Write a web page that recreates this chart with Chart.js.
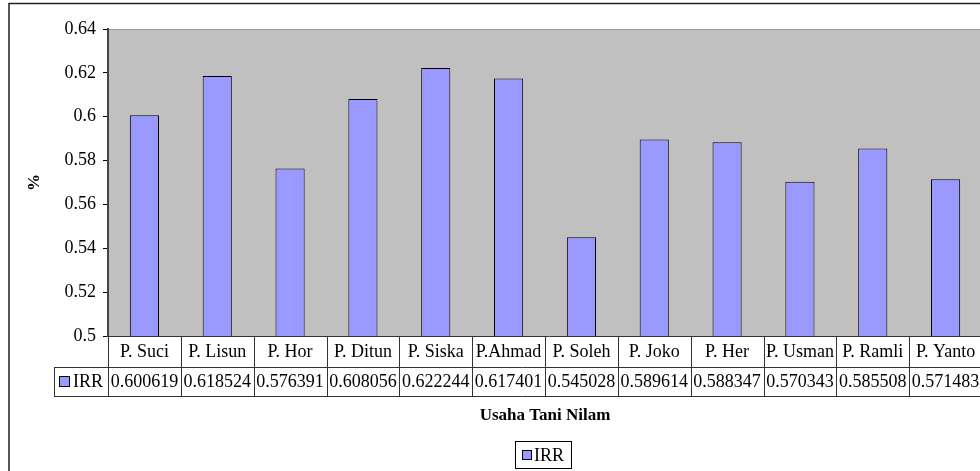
<!DOCTYPE html>
<html>
<head>
<meta charset="utf-8">
<script src="https://cdn.jsdelivr.net/npm/chart.js@4.4.0/dist/chart.umd.min.js"></script>
<style>
  html, body { margin: 0; padding: 0; background: #fff; overflow: hidden; }
  #wrap { width: 990px; height: 471px; }
</style>
</head>
<body>
<div id="wrap"><canvas id="c" width="990" height="471"></canvas></div>
<script>
const categories = ['P. Suci', 'P. Lisun', 'P. Hor', 'P. Ditun', 'P. Siska', 'P.Ahmad',
                    'P. Soleh', 'P. Joko', 'P. Her', 'P. Usman', 'P. Ramli', 'P. Yanto'];
const irrValues = [0.600619, 0.618524, 0.576391, 0.608056, 0.622244, 0.617401,
                   0.545028, 0.589614, 0.588347, 0.570343, 0.585508, 0.571483];
const seriesName = 'IRR';
const yMin = 0.5, yMax = 0.64, yStep = 0.02;
const xTitle = 'Usaha Tani Nilam';
const yTitle = '%';

const SERIF = "'Liberation Serif', 'Times New Roman', serif";
const BAR_FILL = '#9999FF';

// Plot background, data table under the axis, titles, legend and frame
const decorations = {
  id: 'decorations',
  beforeDraw(chart) {
    const { ctx, chartArea: a } = chart;
    ctx.save();
    ctx.fillStyle = '#C0C0C0';
    ctx.fillRect(a.left, a.top, a.right - a.left, a.bottom - a.top);
    ctx.strokeStyle = '#999';
    ctx.lineWidth = 1;
    ctx.beginPath();
    ctx.moveTo(a.left, a.top + 0.5);
    ctx.lineTo(a.right, a.top + 0.5);
    ctx.stroke();
    ctx.restore();
  },
  afterDraw(chart) {
    const { ctx, chartArea: a, scales } = chart;
    const x = scales.x;
    const half = (x.getPixelForValue(1) - x.getPixelForValue(0)) / 2;
    const row1Top = a.bottom, row1Bot = a.bottom + 31, row2Bot = a.bottom + 60;
    const labelCellLeft = 54;
    ctx.save();

    // table grid
    ctx.strokeStyle = '#333';
    ctx.lineWidth = 1;
    ctx.beginPath();
    ctx.moveTo(a.left, row1Top + 0.5); ctx.lineTo(a.right + 20, row1Top + 0.5);
    ctx.moveTo(labelCellLeft, row1Bot + 0.5); ctx.lineTo(a.right + 20, row1Bot + 0.5);
    ctx.moveTo(labelCellLeft, row2Bot + 0.5); ctx.lineTo(a.right + 20, row2Bot + 0.5);
    ctx.moveTo(labelCellLeft + 0.5, row1Bot); ctx.lineTo(labelCellLeft + 0.5, row2Bot);
    categories.forEach((_, i) => {
      const bx = Math.round(x.getPixelForValue(i) - half) + 0.5;
      ctx.moveTo(bx, row1Top); ctx.lineTo(bx, row2Bot);
    });
    const lastX = Math.round(x.getPixelForValue(categories.length - 1) + half) + 0.5;
    ctx.moveTo(lastX, row1Top); ctx.lineTo(lastX, row2Bot);
    ctx.stroke();

    // table text
    ctx.fillStyle = '#000';
    ctx.font = '18px ' + SERIF;
    ctx.textAlign = 'center';
    ctx.textBaseline = 'middle';
    categories.forEach((c, i) => {
      const cx = x.getPixelForValue(i);
      ctx.fillText(c, cx, (row1Top + row1Bot) / 2 + 1);
      ctx.fillText(String(irrValues[i]), cx, (row1Bot + row2Bot) / 2 + 1);
    });

    // series key in the table
    ctx.fillStyle = BAR_FILL;
    ctx.fillRect(59.5, 376.5, 10, 10);
    ctx.strokeStyle = '#000';
    ctx.strokeRect(59.5, 376.5, 10, 10);
    ctx.fillStyle = '#000';
    ctx.textAlign = 'left';
    ctx.fillText(seriesName, 73, (row1Bot + row2Bot) / 2 + 1);

    // axis titles
    ctx.font = 'bold 17px ' + SERIF;
    ctx.textAlign = 'center';
    ctx.fillText(xTitle, (a.left + a.right) / 2, 416);
    ctx.save();
    ctx.translate(35, (a.top + a.bottom) / 2);
    ctx.rotate(-Math.PI / 2);
    ctx.fillText(yTitle, 0, 0);
    ctx.restore();

    // legend
    ctx.strokeStyle = '#000';
    ctx.strokeRect(515.5, 441.5, 56, 27);
    ctx.fillStyle = BAR_FILL;
    ctx.fillRect(522.5, 450.5, 9, 9);
    ctx.strokeRect(522.5, 450.5, 9, 9);
    ctx.fillStyle = '#000';
    ctx.font = '18px ' + SERIF;
    ctx.textAlign = 'left';
    ctx.fillText(seriesName, 534, 456);

    // outer frame
    ctx.strokeStyle = '#222';
    ctx.lineWidth = 1.5;
    ctx.strokeRect(9, 3.5, 1200, 600);
    ctx.restore();
  }
};

new Chart(document.getElementById('c'), {
  type: 'bar',
  data: {
    labels: categories,
    datasets: [{
      label: seriesName,
      data: irrValues,
      backgroundColor: BAR_FILL,
      borderColor: '#000',
      borderWidth: 1,
      categoryPercentage: 1.0,
      barPercentage: 0.4
    }]
  },
  options: {
    responsive: false,
    devicePixelRatio: 1,
    animation: false,
    layout: { padding: { left: 0, top: 29, right: 8, bottom: 135 } },
    plugins: { legend: { display: false }, tooltip: { enabled: false } },
    scales: {
      x: { display: false, offset: true },
      y: {
        min: yMin,
        max: yMax,
        afterFit(scale) { scale.width = 108; },
        ticks: {
          stepSize: yStep,
          color: '#000',
          padding: 7,
          font: { family: SERIF, size: 18 },
          callback: v => String(+v.toFixed(2))
        },
        grid: { drawOnChartArea: false, drawTicks: true, tickLength: 5, color: '#000' },
        border: { color: '#444', width: 2 }
      }
    }
  },
  plugins: [decorations]
});
</script>
</body>
</html>
